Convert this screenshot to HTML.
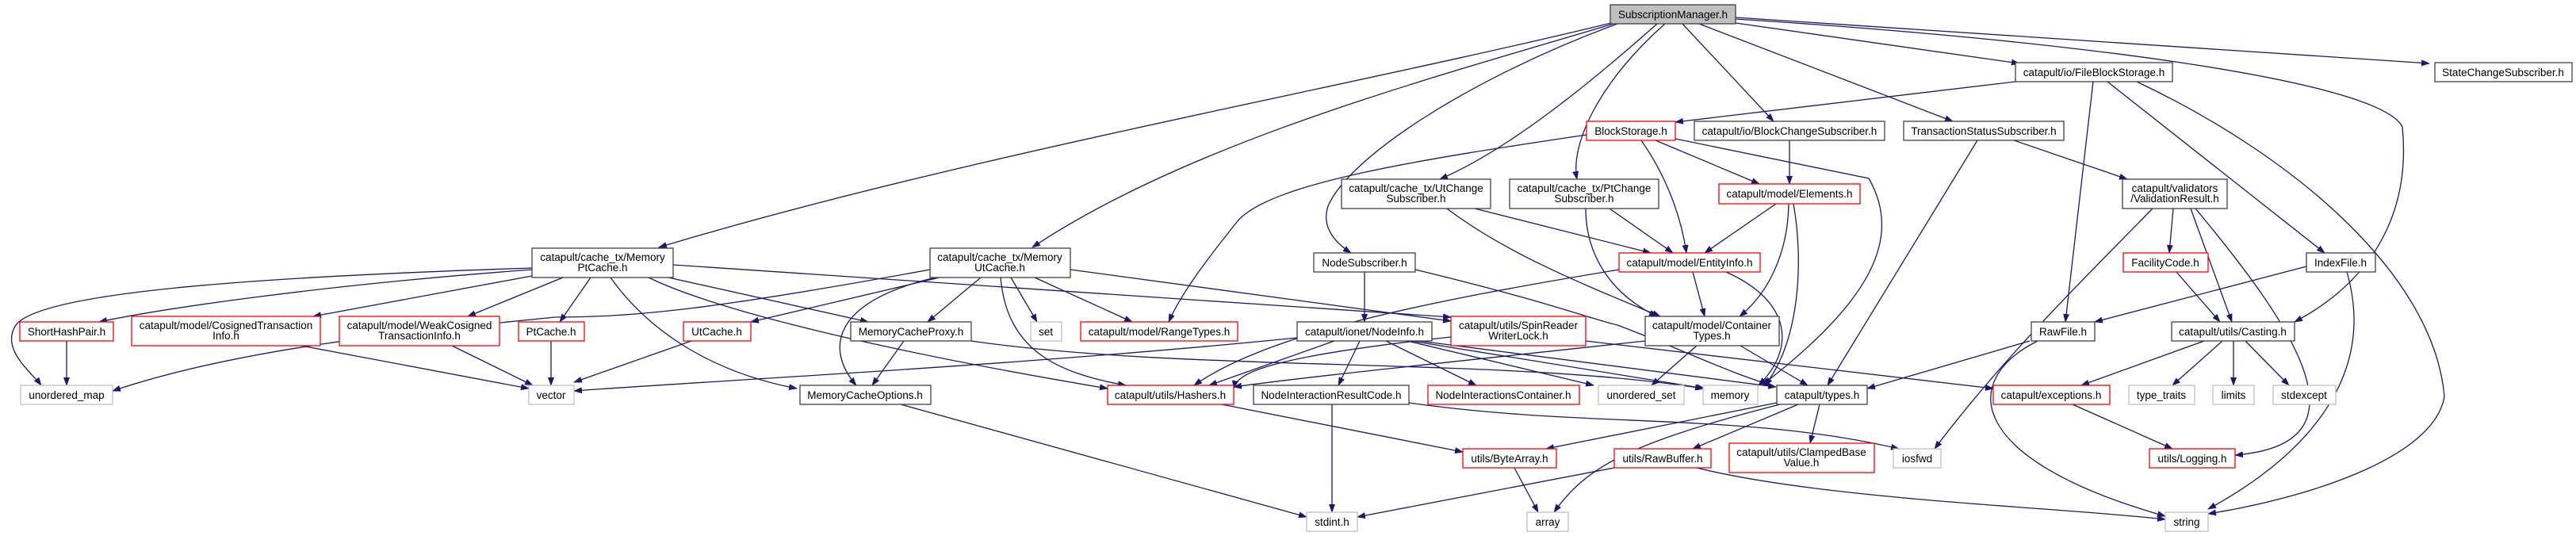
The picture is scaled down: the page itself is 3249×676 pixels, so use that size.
<!DOCTYPE html>
<html><head><meta charset="utf-8"><style>
html,body{margin:0;padding:0;background:#fff;}
svg{display:block;}
text{font-family:"Liberation Sans",Arial,sans-serif;font-size:13.5px;fill:#000;text-anchor:middle;}
.e{fill:none;stroke:#191970;stroke-width:1.3;marker-end:url(#a);}
.b{fill:#fff;stroke:#404040;stroke-width:1.3;}
.r{fill:#fff;stroke:#ff0000;stroke-width:1.3;}
.g{fill:#fff;stroke:#bfbfbf;stroke-width:1.3;}
</style></head><body>
<svg width="3249" height="676" viewBox="0 0 3249 676" xmlns="http://www.w3.org/2000/svg">
<defs><marker id="a" markerWidth="11" markerHeight="8" refX="10" refY="4" orient="auto" markerUnits="userSpaceOnUse"><path d="M0,0 L11,4 L0,8 z" fill="#191970"/></marker></defs>

<!-- edges -->
<g>
<!-- SubscriptionManager -->
<path class="e" d="M2032,29 C1700,110 1200,200 831,312"/>
<path class="e" d="M2035,30 C1800,100 1500,180 1302,312"/>
<path class="e" d="M2040,30 C1850,100 1700,200 1675,260 C1665,290 1690,310 1704,319"/>
<path class="e" d="M2090,30 C2000,110 1900,190 1816,226"/>
<path class="e" d="M2100,30 C2020,100 1980,180 1989,226"/>
<path class="e" d="M2122,30 L2237,153"/>
<path class="e" d="M2143,30 L2463,153"/>
<path class="e" d="M2189,29 L2547,80"/>
<path class="e" d="M2189,22 L3064,80"/>
<path class="e" d="M2189,24 C2600,50 3000,100 3030,160 C3040,260 3000,350 2894,406"/>
<!-- FileBlockStorage -->
<path class="e" d="M2542,103 L2113,154"/>
<path class="e" d="M2640,103 L2605,406"/>
<path class="e" d="M2658,103 L2932,319"/>
<path class="e" d="M2695,103 C2900,200 3070,350 3083,500 C3070,580 2900,630 2785,648"/>
<!-- BlockStorage -->
<path class="e" d="M2001,170 C1800,200 1600,230 1560,280 C1520,330 1490,370 1474,406"/>
<path class="e" d="M2070,177 C2100,220 2120,270 2127,319"/>
<path class="e" d="M2088,177 L2219,232"/>
<path class="e" d="M2113,175 L2357,225 C2400,300 2360,380 2222,486"/>
<!-- BlockChangeSubscriber -->
<path class="e" d="M2257,177 L2257,232"/>
<!-- TransactionStatus -->
<path class="e" d="M2540,177 L2683,226"/>
<path class="e" d="M2494,177 L2305,486"/>
<!-- UtChange / PtChange -->
<path class="e" d="M1860,263 L2082,319"/>
<path class="e" d="M1825,263 C1900,320 2000,360 2094,399"/>
<path class="e" d="M2030,263 L2110,319"/>
<path class="e" d="M2000,263 C2000,320 2030,370 2090,399"/>
<!-- Elements -->
<path class="e" d="M2240,257 L2150,319"/>
<path class="e" d="M2256,257 C2255,320 2230,370 2194,399"/>
<path class="e" d="M2262,257 C2275,330 2270,430 2226,486"/>
<!-- EntityInfo -->
<path class="e" d="M2135,343 L2150,399"/>
<path class="e" d="M2177,343 C2260,380 2265,440 2218,486"/>
<path class="e" d="M2042,340 C1800,380 1600,420 1506,486"/>
<!-- NodeSubscriber -->
<path class="e" d="M1721,343 L1721,406"/>
<path class="e" d="M1785,340 C1950,380 2000,400 2040,410 C2120,440 2180,470 2235,486"/>
<!-- NodeInfo -->
<path class="e" d="M1715,430 L1688,486"/>
<path class="e" d="M1748,430 L1862,486"/>
<path class="e" d="M1775,430 L2010,486"/>
<path class="e" d="M1780,430 L2150,490"/>
<path class="e" d="M1790,430 L2240,488"/>
<path class="e" d="M1683,430 L1525,486"/>
<path class="e" d="M1636,426 C1300,460 900,480 724,493"/>
<!-- Spin -->
<path class="e" d="M2000,430 L2514,490"/>
<path class="e" d="M1830,425 C1600,450 1560,470 1556,490"/>
<!-- ContainerTypes -->
<path class="e" d="M2140,436 L2083,486"/>
<path class="e" d="M2195,436 L2280,486"/>
<path class="e" d="M2075,430 C1800,460 1650,475 1556,488"/>
<!-- types.h -->
<path class="e" d="M2241,508 L1950,566"/>
<path class="e" d="M2268,510 L2135,566"/>
<path class="e" d="M2295,510 L2283,559"/>
<path class="e" d="M2245,510 C2050,560 2000,590 1960,646"/>
<!-- NodeInteractionResultCode -->
<path class="e" d="M1680,510 L1680,646"/>
<path class="e" d="M1777,508 C2000,540 2200,520 2395,566"/>
<!-- Hashers / ByteArray / RawBuffer / Options -->
<path class="e" d="M1541,510 L1845,570"/>
<path class="e" d="M1910,590 L1940,646"/>
<path class="e" d="M2036,590 L1712,652"/>
<path class="e" d="M2140,590 C2300,630 2600,640 2731,655"/>
<path class="e" d="M1136,510 L1648,652"/>
<!-- MemoryCacheProxy -->
<path class="e" d="M1140,430 L1100,486"/>
<path class="e" d="M1225,430 C1500,470 1900,450 2148,490"/>
<!-- small ones -->
<path class="e" d="M872,430 L724,482"/>
<path class="e" d="M695,430 L695,486"/>
<path class="e" d="M84,430 L84,486"/>
<path class="e" d="M380,436 L667,490"/>
<path class="e" d="M570,436 L672,486"/>
<!-- MemoryPtCache -->
<path class="e" d="M671,338 C300,350 50,370 20,410 C0,440 40,470 52,486"/>
<path class="e" d="M671,340 C400,360 200,390 125,406"/>
<path class="e" d="M671,348 L395,399"/>
<path class="e" d="M710,350 L590,399"/>
<path class="e" d="M745,350 L706,406"/>
<path class="e" d="M770,350 C820,420 900,470 1005,490"/>
<path class="e" d="M843,350 L1095,406"/>
<path class="e" d="M818,350 C900,390 1100,440 1397,490"/>
<path class="e" d="M849,334 L1830,400"/>
<!-- MemoryUtCache -->
<path class="e" d="M1185,350 L947,406"/>
<path class="e" d="M1237,350 L1170,406"/>
<path class="e" d="M1180,350 C1050,380 1040,440 1080,486"/>
<path class="e" d="M1275,350 L1308,406"/>
<path class="e" d="M1305,350 L1428,406"/>
<path class="e" d="M1262,350 C1270,440 1330,470 1420,486"/>
<path class="e" d="M1350,340 L1830,405"/>
<path class="e" d="M1173,340 C900,390 800,400 700,400 C500,420 300,440 142,493"/>
<!-- ValidationResult -->
<path class="e" d="M2741,263 L2736,319"/>
<path class="e" d="M2763,263 L2815,406"/>
<path class="e" d="M2715,263 C2600,380 2520,460 2440,566"/>
<path class="e" d="M2769,263 C2900,420 2990,560 2819,574"/>
<!-- FacilityCode / IndexFile / RawFile -->
<path class="e" d="M2745,343 L2800,406"/>
<path class="e" d="M2909,336 L2642,406"/>
<path class="e" d="M2960,343 C3000,480 2900,580 2785,642"/>
<path class="e" d="M2560,430 L2355,490"/>
<path class="e" d="M2570,430 C2470,480 2480,580 2731,651"/>
<!-- Casting -->
<path class="e" d="M2780,430 L2625,486"/>
<path class="e" d="M2803,430 L2740,486"/>
<path class="e" d="M2817,430 L2817,486"/>
<path class="e" d="M2832,430 L2887,486"/>
<path class="e" d="M2614,510 L2740,566"/>
</g>

<!-- nodes -->
<rect x="2031" y="6" width="158" height="24" fill="#bfbfbf" stroke="#404040" stroke-width="1.3"/><text x="2110" y="23">SubscriptionManager.h</text>

<rect class="b" x="2542" y="79" width="198" height="24"/><text x="2641" y="96">catapult/io/FileBlockStorage.h</text>
<rect class="b" x="3071" y="79" width="173" height="24"/><text x="3157" y="96">StateChangeSubscriber.h</text>

<rect class="r" x="2001" y="153" width="112" height="24"/><text x="2057" y="170">BlockStorage.h</text>
<rect class="b" x="2137" y="153" width="240" height="24"/><text x="2257" y="170">catapult/io/BlockChangeSubscriber.h</text>
<rect class="b" x="2401" y="153" width="202" height="24"/><text x="2502" y="170">TransactionStatusSubscriber.h</text>

<rect class="b" x="1692" y="226" width="188" height="37"/><text x="1786" y="242">catapult/cache_tx/UtChange</text><text x="1786" y="255">Subscriber.h</text>
<rect class="b" x="1904" y="226" width="188" height="37"/><text x="1998" y="242">catapult/cache_tx/PtChange</text><text x="1998" y="255">Subscriber.h</text>
<rect class="r" x="2168" y="232" width="178" height="25"/><text x="2257" y="249">catapult/model/Elements.h</text>
<rect class="b" x="2677" y="226" width="132" height="37"/><text x="2743" y="242">catapult/validators</text><text x="2743" y="255">/ValidationResult.h</text>

<rect class="b" x="671" y="313" width="178" height="37"/><text x="760" y="329">catapult/cache_tx/Memory</text><text x="760" y="342">PtCache.h</text>
<rect class="b" x="1173" y="313" width="177" height="37"/><text x="1261" y="329">catapult/cache_tx/Memory</text><text x="1261" y="342">UtCache.h</text>
<rect class="b" x="1657" y="319" width="128" height="24"/><text x="1721" y="336">NodeSubscriber.h</text>
<rect class="r" x="2042" y="319" width="178" height="24"/><text x="2131" y="336">catapult/model/EntityInfo.h</text>
<rect class="r" x="2678" y="319" width="107" height="24"/><text x="2731" y="336">FacilityCode.h</text>
<rect class="b" x="2909" y="319" width="87" height="24"/><text x="2952" y="336">IndexFile.h</text>

<rect class="r" x="25" y="406" width="118" height="24"/><text x="84" y="423">ShortHashPair.h</text>
<rect class="r" x="166" y="399" width="238" height="37"/><text x="285" y="415">catapult/model/CosignedTransaction</text><text x="285" y="428">Info.h</text>
<rect class="r" x="428" y="399" width="202" height="37"/><text x="529" y="415">catapult/model/WeakCosigned</text><text x="529" y="428">TransactionInfo.h</text>
<rect class="r" x="654" y="406" width="83" height="24"/><text x="695" y="423">PtCache.h</text>
<rect class="r" x="862" y="406" width="85" height="24"/><text x="904" y="423">UtCache.h</text>
<rect class="b" x="1073" y="406" width="152" height="24"/><text x="1149" y="423">MemoryCacheProxy.h</text>
<rect class="g" x="1300" y="406" width="39" height="24"/><text x="1319" y="423">set</text>
<rect class="r" x="1363" y="406" width="198" height="24"/><text x="1462" y="423">catapult/model/RangeTypes.h</text>
<rect class="b" x="1636" y="406" width="170" height="24"/><text x="1721" y="423">catapult/ionet/NodeInfo.h</text>
<rect class="r" x="1830" y="399" width="170" height="37"/><text x="1915" y="415">catapult/utils/SpinReader</text><text x="1915" y="428">WriterLock.h</text>
<rect class="b" x="2075" y="399" width="169" height="37"/><text x="2159" y="415">catapult/model/Container</text><text x="2159" y="428">Types.h</text>
<rect class="b" x="2562" y="406" width="80" height="24"/><text x="2602" y="423">RawFile.h</text>
<rect class="b" x="2739" y="406" width="155" height="24"/><text x="2816" y="423">catapult/utils/Casting.h</text>

<rect class="g" x="26" y="486" width="116" height="24"/><text x="84" y="503">unordered_map</text>
<rect class="g" x="667" y="486" width="57" height="24"/><text x="695" y="503">vector</text>
<rect class="b" x="1009" y="486" width="165" height="24"/><text x="1091" y="503">MemoryCacheOptions.h</text>
<rect class="r" x="1397" y="486" width="159" height="24"/><text x="1476" y="503">catapult/utils/Hashers.h</text>
<rect class="b" x="1581" y="486" width="196" height="24"/><text x="1679" y="503">NodeInteractionResultCode.h</text>
<rect class="r" x="1801" y="486" width="191" height="24"/><text x="1896" y="503">NodeInteractionsContainer.h</text>
<rect class="g" x="2016" y="486" width="108" height="24"/><text x="2070" y="503">unordered_set</text>
<rect class="g" x="2148" y="486" width="69" height="24"/><text x="2182" y="503">memory</text>
<rect class="b" x="2241" y="486" width="114" height="24"/><text x="2298" y="503">catapult/types.h</text>
<rect class="r" x="2514" y="486" width="147" height="24"/><text x="2587" y="503">catapult/exceptions.h</text>
<rect class="g" x="2685" y="486" width="83" height="24"/><text x="2726" y="503">type_traits</text>
<rect class="g" x="2791" y="486" width="52" height="24"/><text x="2817" y="503">limits</text>
<rect class="g" x="2867" y="486" width="79" height="24"/><text x="2906" y="503">stdexcept</text>

<rect class="r" x="1845" y="566" width="118" height="24"/><text x="1904" y="583">utils/ByteArray.h</text>
<rect class="r" x="2036" y="566" width="122" height="24"/><text x="2097" y="583">utils/RawBuffer.h</text>
<rect class="r" x="2181" y="559" width="183" height="37"/><text x="2272" y="575">catapult/utils/ClampedBase</text><text x="2272" y="588">Value.h</text>
<rect class="g" x="2388" y="566" width="60" height="24"/><text x="2418" y="583">iosfwd</text>
<rect class="r" x="2711" y="566" width="108" height="24"/><text x="2765" y="583">utils/Logging.h</text>

<rect class="g" x="1648" y="646" width="64" height="24"/><text x="1680" y="663">stdint.h</text>
<rect class="g" x="1926" y="646" width="52" height="24"/><text x="1952" y="663">array</text>
<rect class="g" x="2731" y="646" width="54" height="24"/><text x="2758" y="663">string</text>
</svg>
</body></html>
